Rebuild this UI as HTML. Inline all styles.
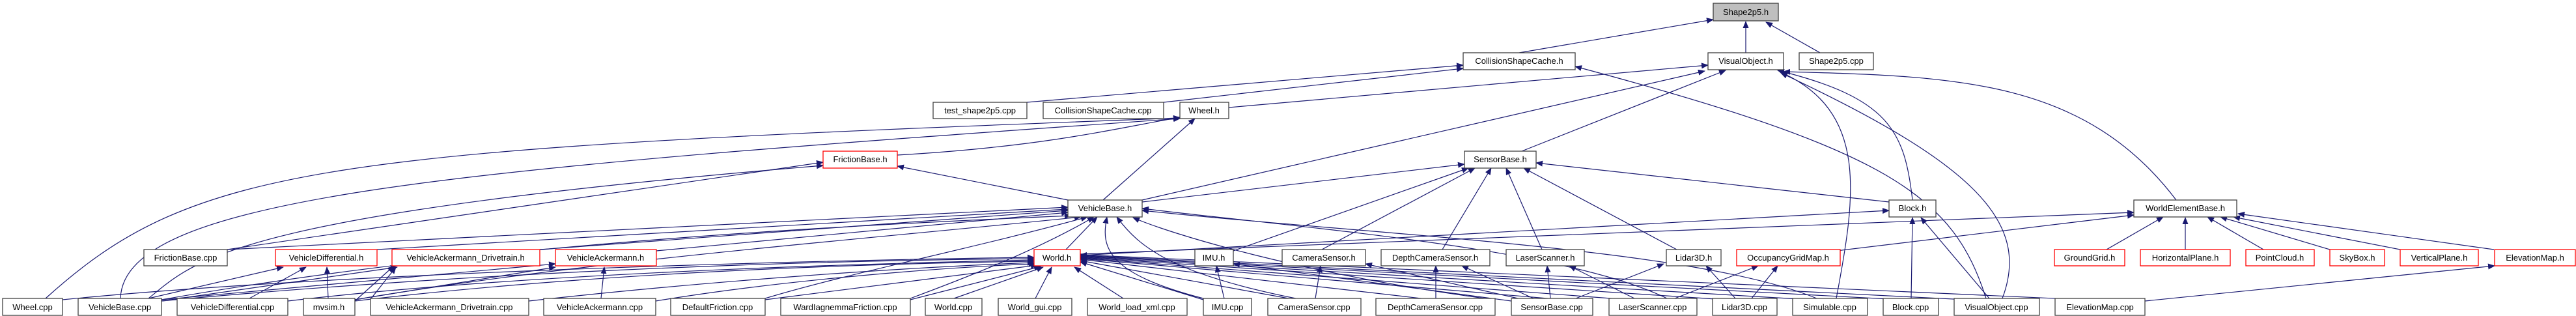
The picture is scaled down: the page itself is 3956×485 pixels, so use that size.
<!DOCTYPE html>
<html><head><meta charset="utf-8"><style>
html,body{margin:0;padding:0;background:#fff;}
svg{display:block;}
text{font-family:"Liberation Sans","DejaVu Sans",sans-serif;font-size:13px;fill:#000;}
</style></head><body>
<svg width="3956" height="485" viewBox="0 0 3956 485" xmlns="http://www.w3.org/2000/svg">
<defs><marker id="a" markerWidth="11" markerHeight="9" refX="10" refY="4.5" orient="auto" markerUnits="userSpaceOnUse"><path d="M0,0 L11,4.5 L0,9z" fill="#191970"/></marker></defs>
<g stroke="#191970" stroke-width="1.2" fill="none" marker-end="url(#a)">
<!-- to Shape2p5.h -->
<path d="M2333,81 L2631,30"/><path d="M2681,81 L2681,33"/><path d="M2795,81 L2712,34"/>
<!-- to CollisionShapeCache.h -->
<path d="M1577,157 L2247,100"/><path d="M1787,157 L2247,105"/>
<path d="M3050,458 C3000,300 2900,230 2419,102"/>
<!-- to VisualObject.h -->
<path d="M1887,165 L2623,100"/><path d="M1754,307 L2618,109"/><path d="M2337,232 L2650,108"/>
<path d="M2937,307 C2925,200 2900,150 2730,108"/>
<path d="M3342,307 C3200,120 3000,117 2739,110"/>
<path d="M2820,458 C2850,300 2870,170 2733,110"/>
<path d="M3075,458 C3120,340 3030,250 2735,112"/>
<!-- to Wheel.h -->
<path d="M70,458 C300,250 500,230 1812,181"/><path d="M185,458 C190,300 700,260 1812,182"/>
<path d="M1694,307 L1835,182"/>
<!-- to FrictionBase.h -->
<path d="M349,383 L1264,249"/><path d="M228,458 C300,400 350,330 1264,254"/><path d="M1640,307 L1378,255"/>
<path d="M1378,238 C1600,225 1700,200 1812,180"/>
<!-- to VehicleBase.h -->
<path d="M349,383 L1640,318"/><path d="M579,383 L1640,321"/><path d="M829,383 L1640,323"/><path d="M1008,385 L1640,326"/>
<path d="M248,460 C700,380 1200,350 1645,331"/><path d="M545,460 C900,400 1300,370 1660,333"/>
<path d="M1175,458 C1300,420 1500,380 1670,333"/><path d="M1398,458 C1500,420 1600,380 1680,333"/>
<path d="M1637,383 L1685,333"/>
<path d="M1848,458 C1700,420 1690,380 1700,333"/><path d="M1990,458 C1800,420 1750,380 1715,333"/>
<path d="M2280,458 C2000,420 1800,360 1740,334"/><path d="M2560,458 C2400,380 2000,350 1754,320"/>
<path d="M2790,458 C2600,380 2100,360 1754,323"/>
<!-- to SensorBase.h -->
<path d="M1754,310 L2249,252"/><path d="M1894,385 L2255,258"/><path d="M2030,383 L2265,258"/>
<path d="M2215,383 L2290,258"/><path d="M2368,383 L2313,258"/><path d="M2575,383 L2340,258"/><path d="M2901,310 L2359,250"/>
<!-- to World.h -->
<path d="M1465,458 L1602,410"/><path d="M1590,458 L1615,410"/><path d="M1725,458 L1650,410"/>
<path d="M96,460 C500,420 1200,400 1588,395"/><path d="M248,462 C700,420 1200,400 1588,397"/>
<path d="M442,462 C800,420 1300,405 1588,399"/><path d="M545,462 C900,420 1300,405 1588,401"/>
<path d="M812,462 C1100,430 1400,410 1588,403"/><path d="M1007,462 C1200,430 1450,410 1590,405"/>
<path d="M1175,460 L1593,407"/><path d="M1398,460 L1598,409"/>
<path d="M1848,460 L1659,402"/><path d="M1990,460 L1659,400"/><path d="M2200,460 L1659,398"/>
<path d="M2400,460 L1659,397"/><path d="M2500,460 L1659,396"/><path d="M2650,460 L1659,395"/>
<path d="M2780,460 L1659,394"/><path d="M2920,460 L1659,393"/><path d="M3020,460 L1659,392"/><path d="M3200,460 L1659,391"/>
<path d="M1659,392 L2901,323"/><path d="M1659,390 L3277,326"/>
<!-- sensors -->
<path d="M1880,458 L1868,408"/><path d="M2321,462 L1894,405"/>
<path d="M2020,458 L2028,408"/><path d="M2340,460 L2097,405"/>
<path d="M2205,458 L2205,408"/><path d="M2355,458 L2245,408"/>
<path d="M2381,458 L2376,408"/><path d="M2510,458 L2410,408"/>
<path d="M2420,458 L2555,405"/><path d="M2665,458 L2620,408"/>
<path d="M2572,458 L2700,408"/><path d="M2690,458 L2730,408"/>
<path d="M2820,385 L3277,330"/>
<!-- Block.h -->
<path d="M2935,458 L2937,334"/><path d="M3055,458 L2950,334"/>
<!-- WorldElementBase.h -->
<path d="M3235,383 L3322,333"/><path d="M3356,383 L3356,334"/><path d="M3476,383 L3390,333"/>
<path d="M3578,383 L3410,333"/><path d="M3686,383 L3430,333"/><path d="M3830,383 L3437,328"/>
<path d="M3294,462 L3831,408"/>
<!-- vehicle headers -->
<path d="M228,458 L435,410"/><path d="M383,458 L470,410"/><path d="M504,458 L502,410"/>
<path d="M248,462 L610,410"/><path d="M570,458 L608,410"/><path d="M545,462 L605,408"/>
<path d="M923,458 L928,410"/><path d="M545,460 L853,410"/><path d="M248,460 L853,405"/>
</g>
<g stroke-width="1.3">
<g stroke="#404040" fill="#fff">
<rect x="2631" y="5" width="100" height="27" fill="#bfbfbf"/>
<rect x="2247" y="81" width="172" height="26"/><rect x="2623" y="81" width="116" height="26"/><rect x="2763" y="81" width="114" height="26"/>
<rect x="1433" y="157" width="144" height="25"/><rect x="1602" y="157" width="185" height="25"/><rect x="1812" y="157" width="75" height="25"/>
<rect x="2249" y="232" width="110" height="26"/>
<rect x="1640" y="307" width="114" height="26"/><rect x="2901" y="307" width="72" height="26"/><rect x="3277" y="307" width="158" height="26"/>
<rect x="221" y="383" width="128" height="25"/><rect x="1835" y="383" width="59" height="25"/><rect x="1969" y="383" width="128" height="25"/>
<rect x="2121" y="383" width="167" height="25"/><rect x="2313" y="383" width="120" height="25"/><rect x="2559" y="383" width="84" height="25"/>
<rect x="4" y="458" width="92" height="26"/><rect x="120" y="458" width="128" height="26"/><rect x="272" y="458" width="170" height="26"/>
<rect x="466" y="458" width="79" height="26"/><rect x="569" y="458" width="243" height="26"/><rect x="835" y="458" width="172" height="26"/>
<rect x="1030" y="458" width="145" height="26"/><rect x="1199" y="458" width="199" height="26"/><rect x="1421" y="458" width="87" height="26"/>
<rect x="1533" y="458" width="113" height="26"/><rect x="1670" y="458" width="153" height="26"/><rect x="1848" y="458" width="74" height="26"/>
<rect x="1947" y="458" width="143" height="26"/><rect x="2113" y="458" width="183" height="26"/><rect x="2321" y="458" width="125" height="26"/>
<rect x="2471" y="458" width="135" height="26"/><rect x="2630" y="458" width="99" height="26"/><rect x="2753" y="458" width="115" height="26"/>
<rect x="2892" y="458" width="85" height="26"/><rect x="3001" y="458" width="131" height="26"/><rect x="3156" y="458" width="138" height="26"/>
</g>
<g stroke="#ff0000" fill="#fff">
<rect x="1264" y="232" width="114" height="26"/>
<rect x="423" y="383" width="156" height="25"/><rect x="602" y="383" width="227" height="25"/><rect x="853" y="383" width="155" height="25"/>
<rect x="1588" y="383" width="71" height="25"/><rect x="2667" y="383" width="159" height="25"/>
<rect x="3155" y="383" width="108" height="25"/><rect x="3287" y="383" width="138" height="25"/><rect x="3449" y="383" width="105" height="25"/>
<rect x="3578" y="383" width="84" height="25"/><rect x="3686" y="383" width="120" height="25"/><rect x="3831" y="383" width="124" height="25"/>
</g>
</g>
<g text-anchor="middle">
<text x="2681" y="23">Shape2p5.h</text>
<text x="2333" y="98">CollisionShapeCache.h</text><text x="2681" y="98">VisualObject.h</text><text x="2820" y="98">Shape2p5.cpp</text>
<text x="1505" y="174">test_shape2p5.cpp</text><text x="1694" y="174">CollisionShapeCache.cpp</text><text x="1849" y="174">Wheel.h</text>
<text x="1321" y="249">FrictionBase.h</text><text x="2304" y="249">SensorBase.h</text>
<text x="1697" y="324">VehicleBase.h</text><text x="2937" y="324">Block.h</text><text x="3356" y="324">WorldElementBase.h</text>
<text x="285" y="400">FrictionBase.cpp</text><text x="501" y="400">VehicleDifferential.h</text><text x="715" y="400">VehicleAckermann_Drivetrain.h</text>
<text x="930" y="400">VehicleAckermann.h</text><text x="1623" y="400">World.h</text><text x="1864" y="400">IMU.h</text>
<text x="2033" y="400">CameraSensor.h</text><text x="2204" y="400">DepthCameraSensor.h</text><text x="2373" y="400">LaserScanner.h</text>
<text x="2601" y="400">Lidar3D.h</text><text x="2746" y="400">OccupancyGridMap.h</text><text x="3209" y="400">GroundGrid.h</text>
<text x="3356" y="400">HorizontalPlane.h</text><text x="3501" y="400">PointCloud.h</text><text x="3620" y="400">SkyBox.h</text>
<text x="3746" y="400">VerticalPlane.h</text><text x="3893" y="400">ElevationMap.h</text>
<text x="50" y="476">Wheel.cpp</text><text x="184" y="476">VehicleBase.cpp</text><text x="357" y="476">VehicleDifferential.cpp</text>
<text x="505" y="476">mvsim.h</text><text x="690" y="476">VehicleAckermann_Drivetrain.cpp</text><text x="921" y="476">VehicleAckermann.cpp</text>
<text x="1102" y="476">DefaultFriction.cpp</text><text x="1298" y="476">WardIagnemmaFriction.cpp</text><text x="1464" y="476">World.cpp</text>
<text x="1589" y="476">World_gui.cpp</text><text x="1746" y="476">World_load_xml.cpp</text><text x="1885" y="476">IMU.cpp</text>
<text x="2018" y="476">CameraSensor.cpp</text><text x="2204" y="476">DepthCameraSensor.cpp</text><text x="2383" y="476">SensorBase.cpp</text>
<text x="2538" y="476">LaserScanner.cpp</text><text x="2679" y="476">Lidar3D.cpp</text><text x="2810" y="476">Simulable.cpp</text>
<text x="2934" y="476">Block.cpp</text><text x="3066" y="476">VisualObject.cpp</text><text x="3225" y="476">ElevationMap.cpp</text>
</g>
</svg>
</body></html>
